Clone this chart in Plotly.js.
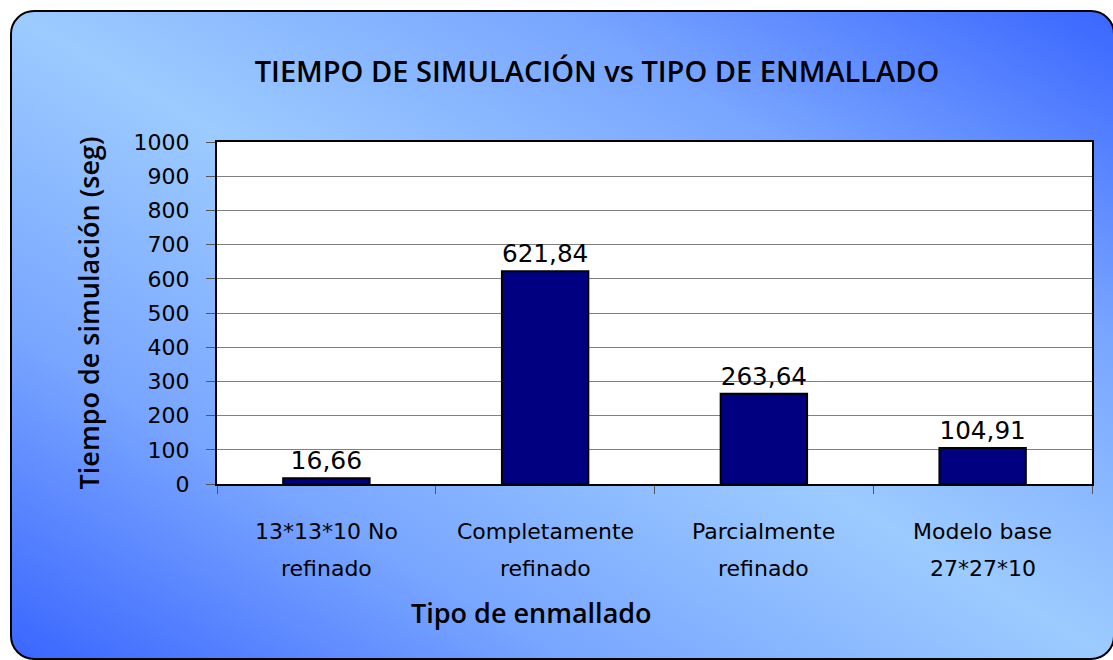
<!DOCTYPE html>
<html>
<head>
<meta charset="utf-8">
<script src="https://cdn.plot.ly/plotly-3.0.1.min.js"></script>
<style>
  html, body { margin: 0; padding: 0; background: #ffffff; width: 1113px; height: 660px; overflow: hidden; }
  #frame {
    position: absolute; left: 10px; top: 10px;
    width: 1101px; height: 646px;
    border: 2px solid #000; border-radius: 24px;
    background: linear-gradient(to top right, #3a66ff 0%, #78a5ff 25%, #9ccbff 50%, #78a5ff 75%, #3a66ff 100%);
  }
  #chart { position: absolute; left: 0; top: 0; width: 1113px; height: 660px; }
</style>
</head>
<body>
<div id="frame"></div>
<div id="chart"></div>
<script>
const categories = ["13*13*10 No refinado", "Completamente refinado", "Parcialmente refinado", "Modelo base 27*27*10"];
const labelLine1 = ["13*13*10 No", "Completamente", "Parcialmente", "Modelo base"];
const labelLine2 = ["refinado", "refinado", "refinado", "27*27*10"];
const simTimes = [16.66, 621.84, 263.64, 104.91];
const yTicks = [0, 100, 200, 300, 400, 500, 600, 700, 800, 900, 1000];

const tickFont = {family: "DejaVu Sans, Verdana, sans-serif", size: 22, color: "#000"};
const valueFont = {family: "DejaVu Sans, Verdana, sans-serif", size: 25, color: "#000"};
const titleFamily = "Open Sans, DejaVu Sans, sans-serif";

const annotations = [];
categories.forEach((c, i) => {
  annotations.push({x: c, xref: "x", y: 0, yref: "paper", yanchor: "middle", yshift: -47,
    text: labelLine1[i], showarrow: false, font: tickFont});
  annotations.push({x: c, xref: "x", y: 0, yref: "paper", yanchor: "middle", yshift: -84,
    text: labelLine2[i], showarrow: false, font: tickFont});
});
annotations.push({x: 0.359, xref: "paper", xanchor: "center", y: 0, yref: "paper", yanchor: "middle", yshift: -128,
  text: "Tipo de enmallado", showarrow: false, font: {family: titleFamily, size: 27, weight: 600, color: "#000"}});

const trace = {
  type: "bar",
  x: categories,
  y: simTimes,
  marker: {color: "#000080", line: {color: "#000", width: 2}},
  texttemplate: "%{y:.2f}",
  textposition: "outside",
  textfont: valueFont,
  cliponaxis: false,
  hoverinfo: "x+y"
};

const layout = {
  width: 1113, height: 660,
  paper_bgcolor: "rgba(0,0,0,0)",
  plot_bgcolor: "#ffffff",
  separators: ",.",
  margin: {l: 217, r: 21, t: 142, b: 176, pad: 0},
  bargap: 0.605,
  showlegend: false,
  title: {text: "TIEMPO DE SIMULACIÓN vs TIPO DE ENMALLADO", x: 597 / 1113, xanchor: "center", xref: "container",
    y: 1 - 72 / 660, yref: "container", yanchor: "middle", font: {family: titleFamily, size: 29, weight: 600, color: "#000"}},
  xaxis: {
    type: "category",
    showticklabels: false,
    ticks: "outside", tickson: "boundaries", ticklen: 8, tickcolor: "#555", tickwidth: 1,
    showline: true, linecolor: "#000", linewidth: 2, mirror: true,
    showgrid: false, zeroline: false, fixedrange: true
  },
  yaxis: {
    range: [0, 1000], tickvals: yTicks, ticktext: yTicks.map(String),
    ticks: "outside", ticklen: 9, tickcolor: "#555", tickwidth: 1,
    tickfont: tickFont, ticklabelstandoff: 12,
    showgrid: true, gridcolor: "#808080", gridwidth: 1,
    showline: true, linecolor: "#000", linewidth: 2, mirror: true,
    zeroline: false, fixedrange: true,
    title: {text: "Tiempo de simulación (seg)", standoff: 26,
      font: {family: titleFamily, size: 27, weight: 600, color: "#000"}}
  },
  annotations: annotations
};

Plotly.newPlot("chart", [trace], layout, {staticPlot: true, displayModeBar: false});
</script>
</body>
</html>
